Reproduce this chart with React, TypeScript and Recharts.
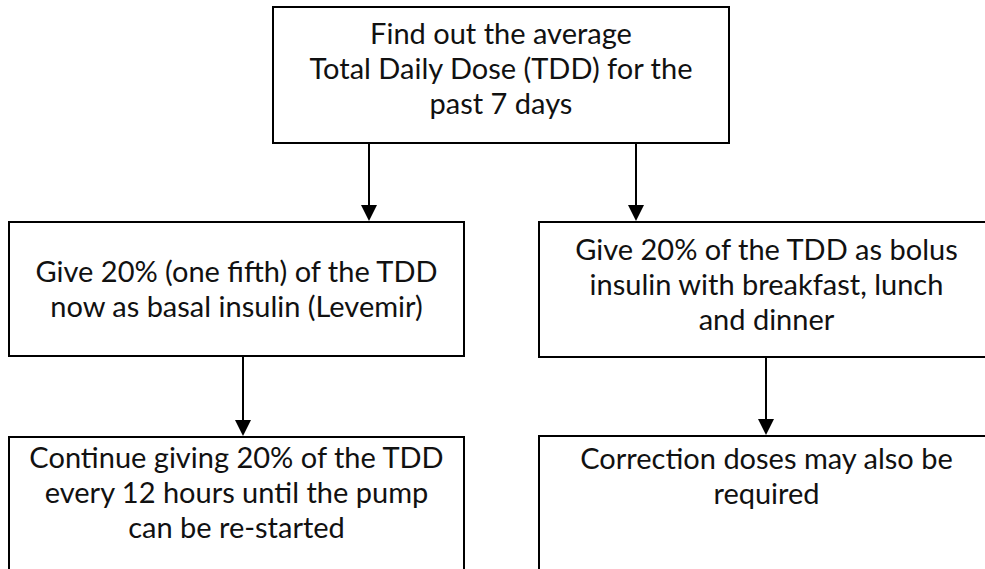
import React from "react";
import { ReferenceArea, ReferenceLine, Scatter, ScatterChart, XAxis, YAxis } from "recharts";

const WIDTH = 985;
const HEIGHT = 569;

// flowchart steps
const stepIds = ["tdd", "basal", "bolus", "continue", "correction"];
const stepText = [
  ["Find out the average", "Total Daily Dose (TDD) for the", "past 7 days"],
  ["Give 20% (one fifth) of the TDD", "now as basal insulin (Levemir)"],
  ["Give 20% of the TDD as bolus", "insulin with breakfast, lunch", "and dinner"],
  ["Continue giving 20% of the TDD", "every 12 hours until the pump", "can be re-started"],
  ["Correction doses may also be", "required"],
];

// layout of each step, in chart units (domain = page pixels)
const boxLeft = [273, 9, 539, 9, 539];
const boxRight = [729, 464, 994, 464, 994];
const boxTop = [7, 222, 222, 437, 436];
const boxBottom = [143, 356, 357, 600, 600];
const firstBaseline = [44, 282, 260, 468, 469];

// connectors
const arrowFrom = ["tdd", "tdd", "basal", "bolus"];
const arrowTo = ["basal", "bolus", "continue", "correction"];
const arrowX = [369, 636, 243, 766];

const LINE_HEIGHT = 35;
const FONT = "Lato, Roboto, sans-serif";

const labelData = stepIds.map((id, i) => ({
  id,
  x: (boxLeft[i] + boxRight[i]) / 2,
  y: firstBaseline[i],
  lines: stepText[i],
}));

const StepLabel = (props: any) => {
  const { cx, cy, payload } = props;
  return (
    <text
      x={cx}
      y={cy}
      textAnchor="middle"
      fontFamily={FONT}
      fontSize={29}
      fill="#111"
    >
      {payload.lines.map((line: string, i: number) => (
        <tspan key={i} x={cx} y={cy + i * LINE_HEIGHT}>
          {line}
        </tspan>
      ))}
    </text>
  );
};

const Arrow = (props: any) => {
  const { x1, y1, x2, y2 } = props;
  const head = 16;
  const half = 8;
  return (
    <g>
      <line x1={x1} y1={y1} x2={x2} y2={y2 - head} stroke="#000" strokeWidth={2} />
      <polygon
        points={`${x2 - half},${y2 - head} ${x2 + half},${y2 - head} ${x2},${y2}`}
        fill="#000"
      />
    </g>
  );
};

export default function App() {
  return (
    <div style={{ position: "absolute", left: 0, top: 0, background: "#fff" }}>
      <ScatterChart width={WIDTH} height={HEIGHT} margin={{ top: 0, right: 0, bottom: 0, left: 0 }}>
        <XAxis type="number" dataKey="x" domain={[0, WIDTH]} hide allowDataOverflow />
        <YAxis type="number" dataKey="y" domain={[0, HEIGHT]} reversed hide allowDataOverflow />
        {stepIds.map((id, i) => (
          <ReferenceArea
            key={id}
            x1={boxLeft[i]}
            x2={boxRight[i]}
            y1={boxTop[i]}
            y2={boxBottom[i]}
            fill="#fff"
            fillOpacity={1}
            stroke="#000"
            strokeWidth={2}
            ifOverflow="visible"
          />
        ))}
        {arrowFrom.map((from, i) => {
          const a = stepIds.indexOf(from);
          const b = stepIds.indexOf(arrowTo[i]);
          return (
            <ReferenceLine
              key={from + arrowTo[i]}
              segment={[
                { x: arrowX[i], y: boxBottom[a] },
                { x: arrowX[i], y: boxTop[b] - 1 },
              ]}
              shape={Arrow}
              ifOverflow="visible"
            />
          );
        })}
        <Scatter data={labelData} shape={StepLabel} isAnimationActive={false} />
      </ScatterChart>
    </div>
  );
}
